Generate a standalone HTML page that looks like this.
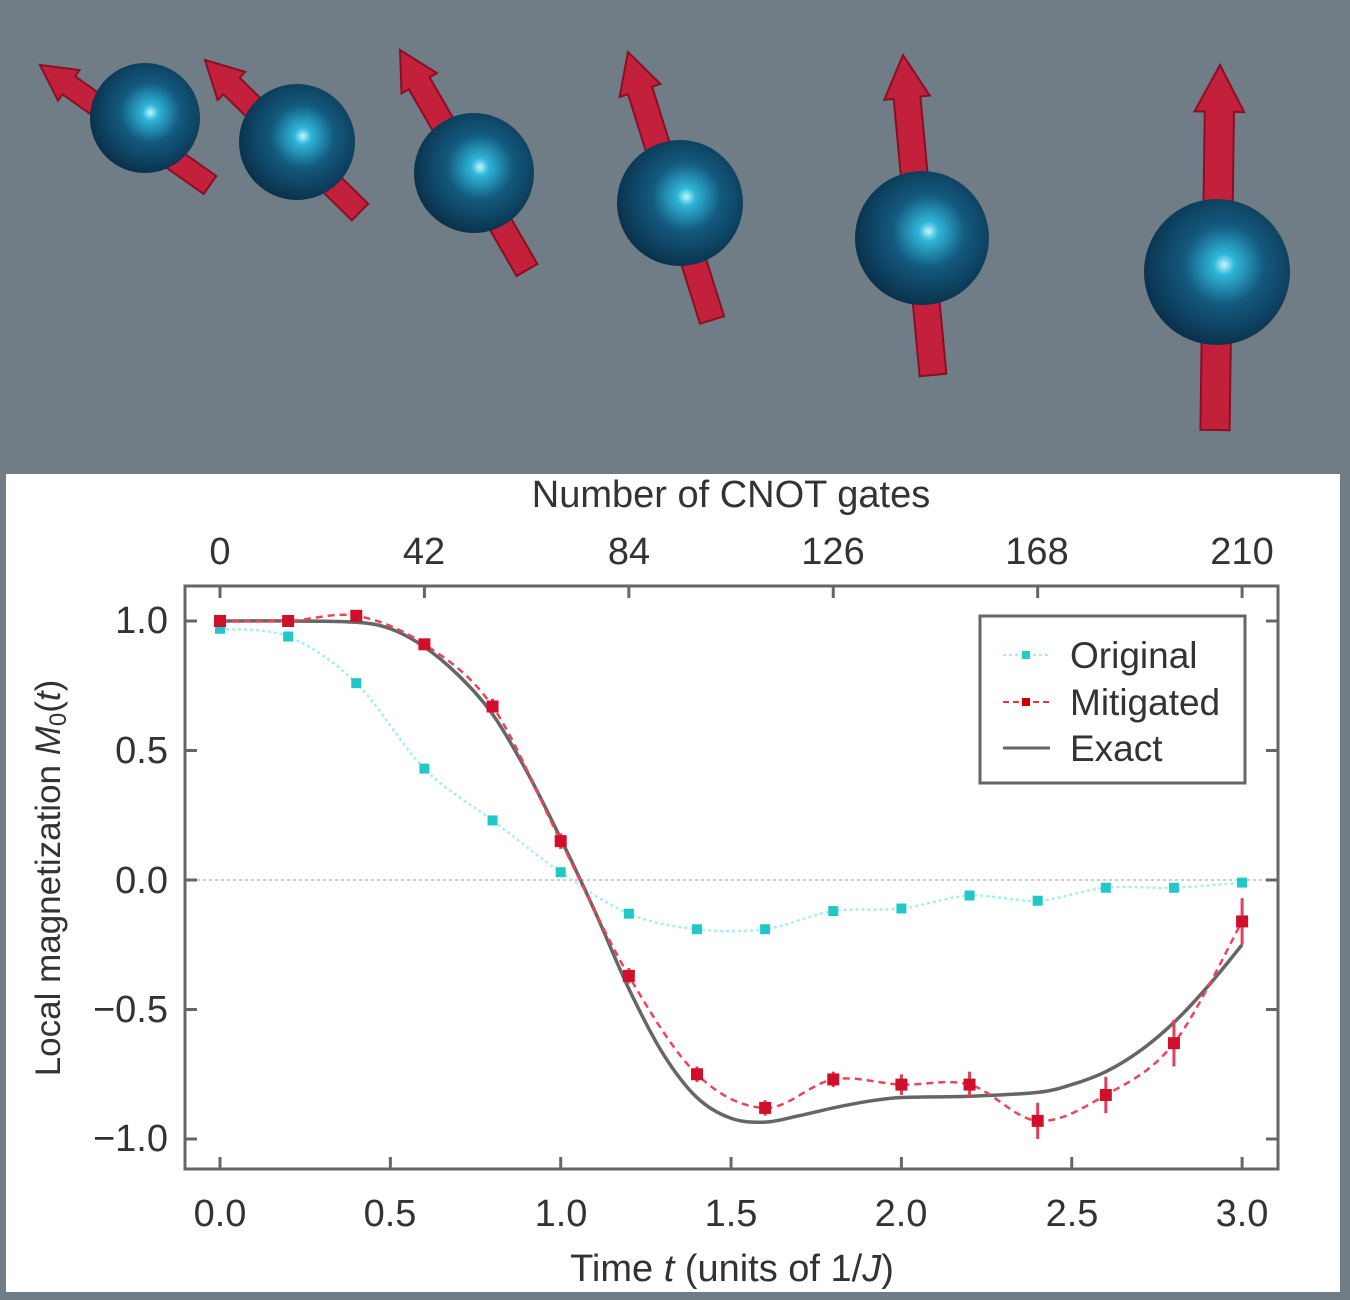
<!DOCTYPE html>
<html><head><meta charset="utf-8"><style>
html,body{margin:0;padding:0;background:#fff}
svg{display:block}
text{font-family:"Liberation Sans",sans-serif;fill:#333}
</style></head><body>
<svg id="s" width="1350" height="1300" viewBox="0 0 1350 1300" xmlns="http://www.w3.org/2000/svg">
<defs>
<radialGradient id="sph" cx="0.55" cy="0.45" r="0.6">
<stop offset="0" stop-color="#bff6ff"/><stop offset="0.12" stop-color="#2fb6d8"/>
<stop offset="0.45" stop-color="#145a80"/><stop offset="1" stop-color="#082c45"/></radialGradient>
</defs>
<rect x="0" y="0" width="1350" height="1300" fill="#707c86"/>
<rect x="6" y="474" width="1334" height="818" fill="#fff"/>
<g id="spins"></g>
<rect x="185" y="586" width="1093" height="583" fill="none" stroke="#666" stroke-width="3"/>
<line x1="185" y1="880" x2="1278" y2="880" stroke="#ccc" stroke-width="2" stroke-dasharray="3,3"/>
<g id="ticks" stroke="#666" stroke-width="3"></g>
<g font-size="38" text-anchor="middle">
<text x="220" y="1226">0.0</text><text x="390" y="1226">0.5</text><text x="561" y="1226">1.0</text>
<text x="731" y="1226">1.5</text><text x="901" y="1226">2.0</text><text x="1072" y="1226">2.5</text><text x="1242" y="1226">3.0</text>
<text x="220" y="564">0</text><text x="424" y="564">42</text><text x="629" y="564">84</text>
<text x="833" y="564">126</text><text x="1037" y="564">168</text><text x="1242" y="564">210</text>
<text x="731" y="507">Number of CNOT gates</text>
<text x="732" y="1281">Time <tspan font-style="italic">t</tspan> (units of 1/<tspan font-style="italic">J</tspan>)</text>
</g>
<g font-size="38" text-anchor="end">
<text x="168" y="633">1.0</text><text x="168" y="763">0.5</text><text x="168" y="893">0.0</text>
<text x="168" y="1022">−0.5</text><text x="168" y="1151">−1.0</text>
</g>
<text font-size="35" text-anchor="middle" transform="translate(60,878) rotate(-90)">Local magnetization <tspan font-style="italic">M</tspan><tspan font-size="24" dy="6">0</tspan><tspan dy="-6">(<tspan font-style="italic">t</tspan>)</tspan></text>
<g id="data"></g>
<rect x="980" y="616" width="265" height="167" fill="#fff" stroke="#666" stroke-width="3"/>
<line x1="1003" y1="655" x2="1050" y2="655" stroke="#9ee" stroke-width="2" stroke-dasharray="3,3"/>
<rect x="1022" y="651" width="8" height="8" fill="#2cc"/>
<line x1="1003" y1="702" x2="1050" y2="702" stroke="#e33" stroke-width="2" stroke-dasharray="6,4"/>
<rect x="1022" y="698" width="8" height="8" fill="#c00"/>
<line x1="1003" y1="748" x2="1050" y2="748" stroke="#666" stroke-width="3"/>
<g font-size="37"><text x="1070" y="668">Original</text><text x="1070" y="715">Mitigated</text><text x="1070" y="761">Exact</text></g>
</svg>
<script>
var NS="http://www.w3.org/2000/svg";
function el(p,t,a){var e=document.createElementNS(NS,t);for(var k in a)e.setAttribute(k,a[k]);p.appendChild(e);return e;}
var X=function(t){return 220+t*340.7},Y=function(v){return 880-v*259};
var tk=document.getElementById('ticks');
[0,.5,1,1.5,2,2.5,3].forEach(function(t){el(tk,'line',{x1:X(t),y1:1169,x2:X(t),y2:1157});});
[0,42,84,126,168,210].forEach(function(n){var x=X(n/70);el(tk,'line',{x1:x,y1:586,x2:x,y2:598});});
[1,.5,0,-.5,-1].forEach(function(v){el(tk,'line',{x1:185,y1:Y(v),x2:197,y2:Y(v)});el(tk,'line',{x1:1278,y1:Y(v),x2:1266,y2:Y(v)});});
var sp=document.getElementById('spins');
var S=[[145,118,55,210,185,40,65],[297,142,58,360,212,205,60],[474,173,60,527,270,400,50],[680,203,63,712,320,628,52],[922,238,67,933,375,903,55],[1217,272,73,1215,430,1220,65]];
S.forEach(function(s){
 var dx=s[5]-s[3],dy=s[6]-s[4],L=Math.hypot(dx,dy),ux=dx/L,uy=dy/L,px=-uy,py=ux,w=s[2]*0.4,hw=w*1.7,hl=w*1.6;
 var bx=s[5]-ux*hl,by=s[6]-uy*hl;
 var pts=[[s[3]+px*w/2,s[4]+py*w/2],[bx+px*w/2,by+py*w/2],[bx+px*hw/2,by+py*hw/2],[s[5],s[6]],[bx-px*hw/2,by-py*hw/2],[bx-px*w/2,by-py*w/2],[s[3]-px*w/2,s[4]-py*w/2]];
 el(sp,'polygon',{points:pts.map(function(p){return p.join(',')}).join(' '),fill:'#c3203c',stroke:'#8a0f25','stroke-width':2});
 el(sp,'circle',{cx:s[0],cy:s[1],r:s[2],fill:'url(#sph)'});
});
var d=document.getElementById('data');
var ts=[];for(var i=0;i<=15;i++)ts.push(i*0.2);
var orig=[.97,.94,.76,.43,.23,.03,-.13,-.19,-.19,-.12,-.11,-.06,-.08,-.03,-.03,-.01];
var mit=[1,1,1.02,.91,.67,.15,-.37,-.75,-.88,-.77,-.79,-.79,-.93,-.83,-.63,-.16];
var err=[0,0,.02,.02,.03,.03,.03,.03,.03,.03,.04,.05,.07,.07,.09,.09];
var ex=[[0,1],[.2,1],[.4,.995],[.5,.97],[.6,.9],[.7,.79],[.8,.64],[.9,.42],[1,.16],[1.1,-.12],[1.2,-.42],[1.3,-.67],[1.4,-.84],[1.5,-.92],[1.6,-.935],[1.7,-.91],[1.8,-.88],[1.9,-.855],[2,-.84],[2.2,-.835],[2.4,-.82],[2.5,-.79],[2.6,-.74],[2.7,-.66],[2.8,-.55],[2.9,-.41],[3,-.25]];
function smooth(pts){var s='M'+pts[0][0]+','+pts[0][1];for(var i=0;i<pts.length-1;i++){var p0=pts[i-1]||pts[i],p1=pts[i],p2=pts[i+1],p3=pts[i+2]||p2;s+=' C'+(p1[0]+(p2[0]-p0[0])/6)+','+(p1[1]+(p2[1]-p0[1])/6)+' '+(p2[0]-(p3[0]-p1[0])/6)+','+(p2[1]-(p3[1]-p1[1])/6)+' '+p2[0]+','+p2[1];}return s;}
el(d,'path',{d:smooth(ts.map(function(t,i){return[X(t),Y(orig[i])]})),fill:'none',stroke:'#a8eeee','stroke-width':2.5,'stroke-dasharray':'3,3'});
el(d,'path',{d:smooth(ex.map(function(p){return[X(p[0]),Y(p[1])]})),fill:'none',stroke:'#666','stroke-width':3.5});
el(d,'path',{d:smooth(ts.map(function(t,i){return[X(t),Y(mit[i])]})),fill:'none',stroke:'#ee4455','stroke-width':2.5,'stroke-dasharray':'7,5'});
ts.forEach(function(t,i){
 el(d,'rect',{x:X(t)-5,y:Y(orig[i])-5,width:10,height:10,fill:'#22c8c8'});
 var e=err[i]*259;if(e>2)el(d,'line',{x1:X(t),x2:X(t),y1:Y(mit[i])-e,y2:Y(mit[i])+e,stroke:'#e0405a','stroke-width':3});
 el(d,'rect',{x:X(t)-6,y:Y(mit[i])-6,width:12,height:12,fill:'#d0102a'});
});
</script>
</body></html>
